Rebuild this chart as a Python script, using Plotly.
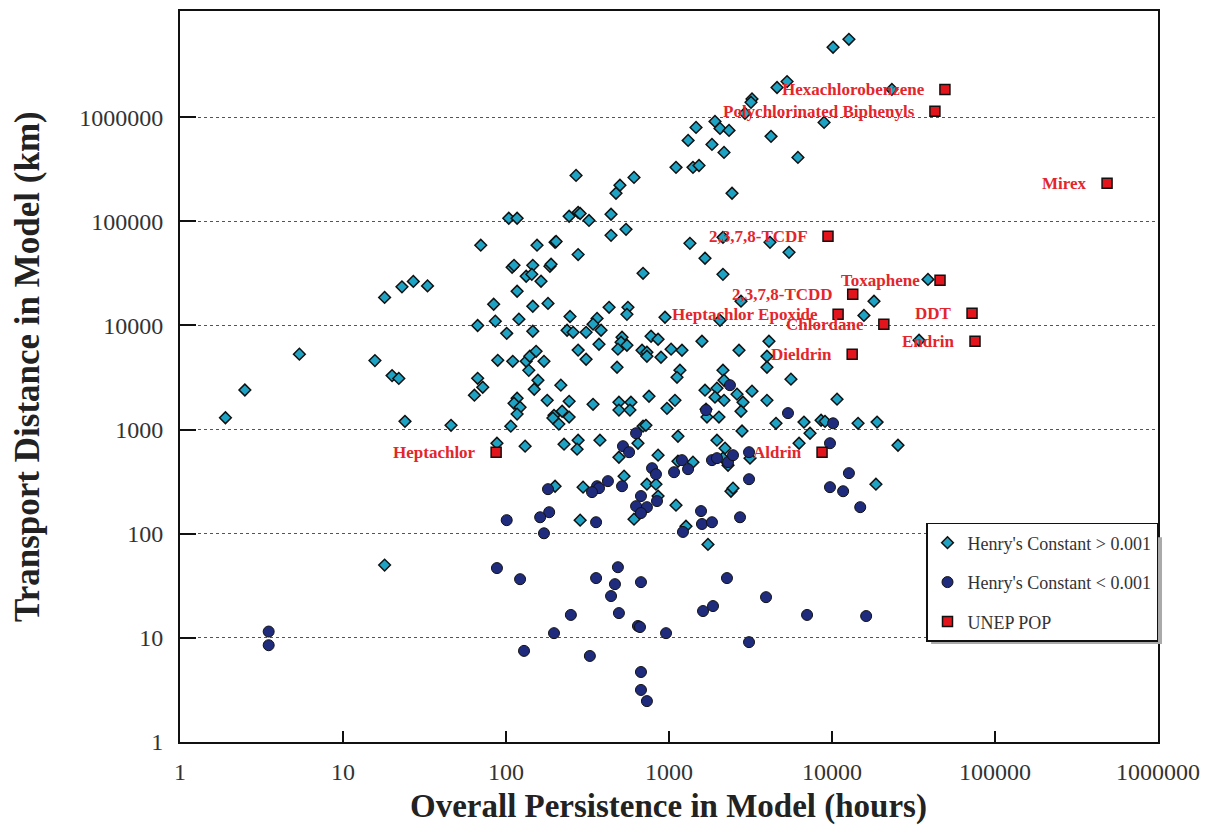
import math
import plotly.graph_objects as go

# Henry's Constant > 0.001 (cyan diamonds)
hi_x = [1.9, 2.5, 5.4, 15.7, 18, 23, 27, 33, 20, 22, 24, 46, 18,
        10150, 12700, 5300, 4600, 3230, 3185, 2925, 1915, 2055, 2335, 1465, 1310, 1835, 2175, 4225, 8940, 6180, 23300,
        269, 104, 117, 244, 277, 70, 155, 200, 203, 277, 109, 112, 146, 133, 144, 164, 186, 189, 117, 84, 146, 181,
        247, 86, 67, 120, 101, 146, 237, 258, 277, 89, 110, 133, 140, 153, 171, 138, 157, 149, 217, 67, 72, 64, 117,
        112, 122, 117, 179, 244, 221, 197, 194, 211, 244, 107, 88, 131, 227, 277,
        500, 473, 610, 1104, 1403, 1528, 2436, 285, 323, 441, 441, 545, 693, 1344, 1663, 2143, 2143, 4165, 5450, 2765,
        2055, 429, 560, 552, 945, 362, 342, 310, 383, 515, 508, 552, 486, 372, 310, 480, 776, 857, 683, 732, 732, 893,
        1030, 1201, 1593, 2688, 4104, 3990, 3990, 1167, 1120, 2143, 2175, 5600, 342, 493, 493, 584, 576, 754, 1088, 972,
        1663, 1969, 1915, 2175, 2614, 3230, 2845, 3990, 2765, 1687, 1710, 2026, 4534, 6730, 8570, 9060, 10740, 14450,
        693, 722, 1135, 2805, 377, 645, 1969, 7330, 6280, 2206,
        38800, 18100, 15700, 34200, 18900, 25400, 18600,
        273, 493, 857, 1135, 530, 732, 832, 857, 610, 1104, 297, 200, 285, 1403, 2143, 2302, 3140, 2400, 2470, 1271, 1734]
hi_y = [1300, 2400, 5300, 4600, 18600, 23500, 26500, 24000, 3300, 3100, 1200, 1100, 50,
        4700000, 5600000, 2200000, 1930000, 1500000, 1390000, 1090000, 912000, 781000, 747000, 798000, 599000, 548000,
        459000, 655000, 891000, 411000, 1850000,
        276000, 107000, 107000, 112000, 122000, 59000, 59000, 63000, 64000, 48000, 36200, 37800, 37800, 29700, 31000,
        26600, 37000, 38700, 21300, 16000, 15300, 16300, 12200, 11000, 10000, 11500, 8400, 8800, 9000, 8600, 5800, 4630,
        4530, 4530, 5060, 5650, 4530, 3710, 2980, 2440, 2670, 3110, 2550, 2140, 2000, 1790, 1640, 1410, 1910, 1870, 1500,
        1370, 1290, 1130, 1320, 1080, 740, 693, 724, 790,
        222000, 186000, 264000, 330000, 330000, 344000, 186000, 119000, 102000, 117000, 73400, 83800, 31700, 61500,
        44200, 31000, 70200, 62900, 50400, 17100, 11200, 14950, 14950, 12800, 12000, 11700, 10300, 8600, 9000, 7710,
        6900, 6460, 5920, 6600, 4740, 3970, 7880, 7380, 5780, 5530, 5060, 4950, 5920, 5780, 7050, 5780, 7050, 5060,
        3970, 3720, 3180, 3720, 2980, 3050, 1750, 1830, 1540, 1830, 1540, 2090, 1910, 1600, 2390, 2500, 2050, 1910,
        2190, 2340, 1830, 1910, 1500, 1570, 1320, 1320, 1150, 1180, 1230, 1200, 1960, 1150,
        1080, 1100, 864, 970, 791, 740, 791, 923, 740, 663,
        27700, 17100, 12500, 7210, 1180, 708, 299,
        649, 543, 568, 497, 357, 299, 299, 230, 138, 188, 280, 286, 135, 487, 532, 455, 532, 256, 274, 118, 79]

# Henry's Constant < 0.001 (navy circles)
lo_x = [3.5, 3.5, 2366, 1687, 5370, 10150, 9720, 12700, 9720, 11700, 14900, 7030, 16200,
        628, 522, 569, 787, 832, 1074, 515, 673, 844, 628, 732, 673, 422, 362, 372, 337, 181, 184, 162, 101, 357, 171,
        88, 122, 357, 486, 466, 673, 441, 493, 250, 197, 129, 327, 645, 664, 959, 673, 673, 732, 1617, 1862, 2268,
        3938, 3097, 1201, 1309, 1835, 1969, 2302, 2470, 3097, 3097, 1572, 1593, 1835, 2727, 1218]
lo_y = [11.5, 8.5, 2670, 1540, 1440, 1150, 740, 382, 280, 256, 180, 16.6, 16.2,
        923, 693, 607, 426, 373, 390, 286, 230, 206, 184, 180, 158, 320, 286, 274, 251, 268, 161, 144, 135, 129, 101,
        46.8, 36.6, 37.5, 47.7, 32.8, 34.3, 25.2, 17.3, 16.6, 11.1, 7.5, 6.7, 13.0, 12.7, 11.1, 4.7, 3.16, 2.47, 18.1,
        20.2, 37.5, 24.6, 9.1, 509, 417, 509, 532, 487, 568, 607, 334, 165, 124, 129, 144, 104]

# UNEP POPs (red squares)
pop_names = ["Hexachlorobenzene", "Polychlorinated Biphenyls", "Mirex", "2,3,7,8-TCDF", "Toxaphene",
             "2,3,7,8-TCDD", "Heptachlor Epoxide", "DDT", "Chlordane", "Endrin", "Dieldrin", "Aldrin", "Heptachlor"]
pop_x = [49300, 42800, 487000, 9450, 46000, 13400, 10900, 72300, 20800, 75400, 13300, 8690, 87]
pop_y = [1850000, 1140000, 232000, 71800, 27200, 19900, 12800, 13100, 10300, 7050, 5290, 607, 607]

y_ticks = [1, 10, 100, 1000, 10000, 100000, 1000000]
x_ticks = [1, 10, 100, 1000, 10000, 100000, 1000000]

x_title = "Overall Persistence in Model (hours)"
y_title = "Transport Distance in Model (km)"

SERIF = "Liberation Serif, Times New Roman, serif"

fig = go.Figure()
fig.add_trace(go.Scatter(
    x=hi_x, y=hi_y, mode="markers", name="Henry's Constant > 0.001", legendgroup="a",
    marker=dict(symbol="diamond", size=9, color="#1fa3c4", line=dict(color="#111", width=1.5))))
fig.add_trace(go.Scatter(
    x=lo_x, y=lo_y, mode="markers", name="Henry's Constant < 0.001", legendgroup="b",
    marker=dict(symbol="circle", size=11, color="#1f2c7e", line=dict(color="#111", width=1))))
fig.add_trace(go.Scatter(
    x=pop_x, y=pop_y, mode="markers", name="UNEP POP", legendgroup="c",
    marker=dict(symbol="square", size=10, color="#e3141c", line=dict(color="#111", width=1.5))))

for n, xv, yv in zip(pop_names, pop_x, pop_y):
    fig.add_annotation(x=math.log10(xv), y=math.log10(yv), text=n, showarrow=False,
                       xanchor="right", yanchor="middle", xshift=-18,
                       font=dict(family=SERIF, size=17, color="#e3262c", weight="bold"))

# axis titles
fig.add_annotation(xref="paper", yref="paper", x=0.499, y=-0.088, text=x_title, showarrow=False,
                   xanchor="center", yanchor="middle",
                   font=dict(family=SERIF, size=33, color="#222", weight="bold"))
fig.add_annotation(xref="paper", yref="paper", x=-0.1554, y=0.513, text=y_title, showarrow=False,
                   textangle=-90, xanchor="center", yanchor="middle",
                   font=dict(family=SERIF, size=35, color="#222", weight="bold"))

fig.update_xaxes(type="log", range=[0, 6], tickmode="array", tickvals=x_ticks,
                 ticktext=[str(v) for v in x_ticks], ticks="inside", ticklen=11, tickwidth=2,
                 tickcolor="#111", showline=True, linecolor="#111", linewidth=2, mirror=True,
                 showgrid=False, zeroline=False, ticklabelstandoff=7, automargin=False,
                 tickfont=dict(family=SERIF, size=24, color="#333"))
fig.update_yaxes(type="log", range=[0, 7.02], tickmode="array", tickvals=y_ticks,
                 ticktext=[str(v) for v in y_ticks], ticks="inside", ticklen=16, tickwidth=2,
                 tickcolor="#111", showline=True, linecolor="#111", linewidth=2, mirror=True,
                 showgrid=True, gridcolor="#555", gridwidth=1, griddash="dot", zeroline=False,
                 ticklabelstandoff=10, automargin=False,
                 tickfont=dict(family=SERIF, size=24, color="#333"))

# legend drop shadow (right and bottom edges only)
fig.add_shape(type="rect", xref="paper", yref="paper", x0=0.768, x1=1.0041, y0=0.1340, y1=0.28,
              fillcolor="#aaa", line=dict(width=0), layer="above")

fig.update_layout(
    width=1205, height=825, margin=dict(l=180, r=47, t=11, b=83, autoexpand=False),
    paper_bgcolor="white", plot_bgcolor="white",
    legend=dict(x=1, xanchor="right", y=0.2996, yanchor="top", bgcolor="white",
                bordercolor="#111", borderwidth=1.5, tracegroupgap=13,
                font=dict(family=SERIF, size=18, color="#333"),
                itemwidth=30),
)

fig.write_html("out.html")
